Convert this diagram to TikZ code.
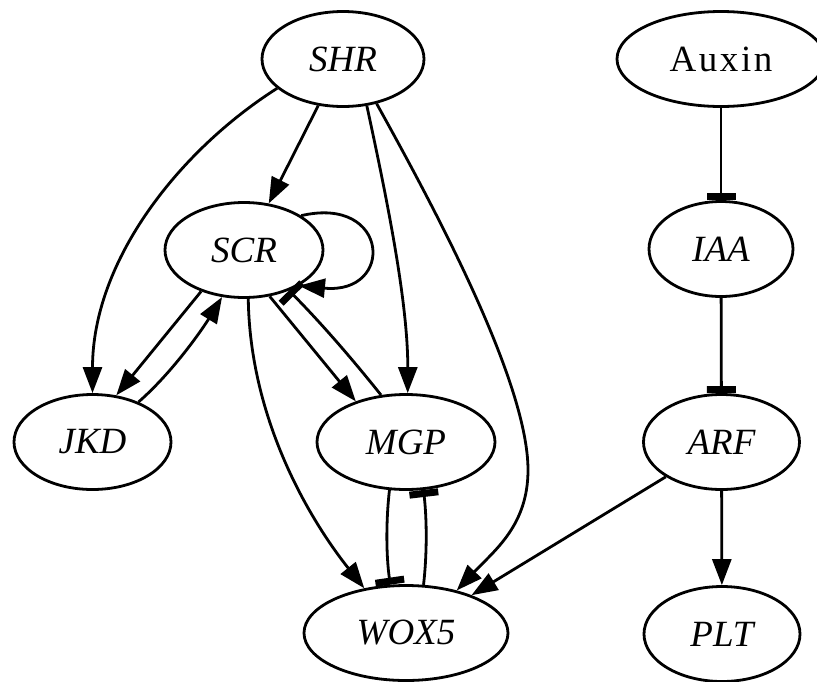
\documentclass[tikz,border=0pt]{standalone}
\usepackage{fontspec}
\setmainfont{Liberation Serif}
\usetikzlibrary{shapes.geometric,arrows.meta}
\begin{document}
\begin{tikzpicture}[x=1pt,y=-1pt,
  gnode/.style={draw, ellipse, line width=2.8pt, inner sep=0pt, minimum height=95pt,
    font=\fontsize{37}{40}\selectfont\itshape},
  conn/.style={line width=2.8pt},
  act/.style={conn, -{Triangle[length=26pt,width=19pt]}},
  inh/.style={conn, -{Rectangle[length=7pt,width=29pt]}},
]
\clip (0,0) rectangle (817,681);
\useasboundingbox (0,0) rectangle (817,681);

\node[gnode, minimum width=162pt] (shr) at (343,59) {SHR};
\node[gnode, minimum width=208pt, font=\fontsize{37}{40}\selectfont\addfontfeature{LetterSpace=7}] (aux) at (721,59) {Auxin};
\node[gnode, minimum width=144pt] (iaa) at (721,249) {IAA};
\node[gnode, minimum width=158pt] (scr) at (244,250) {SCR};
\node[gnode, minimum width=157pt] (jkd) at (92.5,442) {JKD};
\node[gnode, minimum width=178pt] (mgp) at (406,442) {MGP};
\node[gnode, minimum width=156pt] (arf) at (721.5,442) {ARF};
\node[gnode, minimum width=204pt] (wox) at (406,633) {WOX5};
\node[gnode, minimum width=156pt] (plt) at (722,634) {PLT};

\draw[act] (shr.204) .. controls (180,150) and (92.5,260) .. (jkd.north);
\draw[act] (shr.242) -- (scr.62);
\draw[act] (shr.297) .. controls (385,190) and (408,300) .. (mgp.88);
\draw[act] (shr.307) .. controls (430,200) and (528,380) .. (528,470) .. controls (528,525) and (495,550) .. (wox.40);
\draw[act] (scr.224) -- (jkd.63);
\draw[act] (jkd.41) .. controls (175,370) and (205,325) .. (scr.245);
\draw[act] (scr.299) -- (mgp.141);
\draw[inh] (mgp.118) .. controls (353,360) and (323,325) .. (scr.318);
\draw[act] (scr.275) .. controls (250,420) and (310,520) .. (wox.133);
\draw[act] (scr.31) .. controls (390,195) and (395,295) .. (scr.327);
\draw[inh] (mgp.251) .. controls (386,520) and (386,555) .. (wox.108);
\draw[inh] (wox.70) .. controls (427,555) and (427,520) .. (mgp.290);
\draw[act] (arf.212) -- (wox.30);
\draw[act] (arf) -- (plt);
\draw[inh] (aux) -- (iaa);
\draw[inh] (iaa) -- (arf);
\end{tikzpicture}
\end{document}
